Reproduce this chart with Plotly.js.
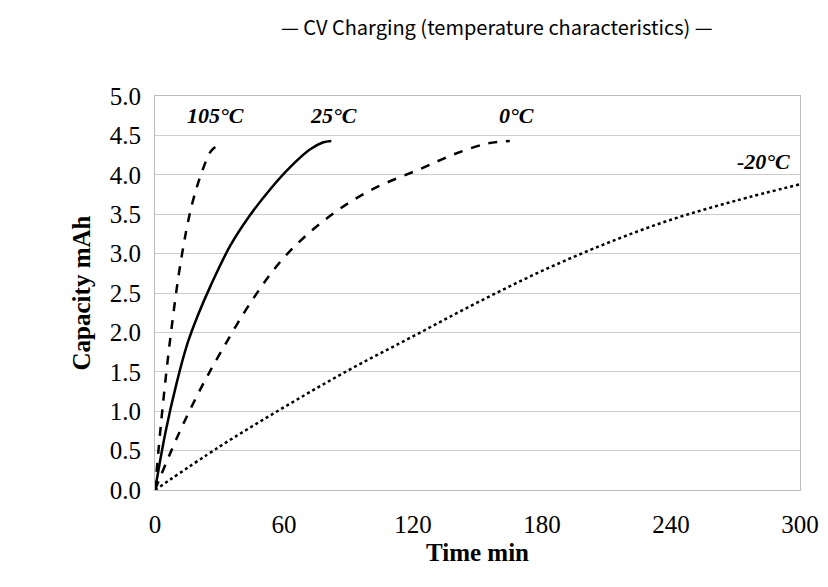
<!DOCTYPE html>
<html><head><meta charset="utf-8">
<script src="https://cdn.plot.ly/plotly-3.0.1.min.js"></script>
<style>body{margin:0;background:#fff}</style>
</head><body>
<div id="graph" style="width:828px;height:587px"></div>
<script>
// values
const t105 = [0, 3, 7, 12, 17, 22, 26, 29]
const c105 = [0, 0.9, 1.9, 2.9, 3.6, 4.05, 4.3, 4.37]
const t25 = [0, 5, 10, 15, 20, 26, 35, 44, 54, 63, 72, 78, 82]
const c25 = [0, 0.75, 1.35, 1.85, 2.22, 2.6, 3.1, 3.48, 3.83, 4.1, 4.32, 4.41, 4.43]
const t0 = [0, 10, 20, 30, 45, 60, 80, 100, 123, 140, 155, 165]
const c0 = [0, 0.65, 1.22, 1.72, 2.4, 2.95, 3.45, 3.8, 4.07, 4.27, 4.4, 4.43]
const tm20 = [0, 30, 60, 90, 120, 150, 180, 210, 240, 270, 300]
const cm20 = [0, 0.55, 1.05, 1.52, 1.95, 2.38, 2.78, 3.13, 3.43, 3.67, 3.88]
const labels = ["105°C", "25°C", "0°C", "-20°C"]
const labelX = [28, 83, 168, 283]
const labelY = [4.75, 4.75, 4.75, 4.17]

const serif = "Liberation Serif"
const mk = (x, y, dash) => ({x, y, mode: "lines", type: "scatter",
    line: {color: "#000", width: 2.5, dash, shape: "spline", smoothing: 1}})

const traces = [mk(t105, c105, "dash"), mk(t25, c25, "solid"), mk(t0, c0, "dash"), mk(tm20, cm20, "dot")]

const layout = {
    width: 828, height: 587, showlegend: false,
    paper_bgcolor: "#fff", plot_bgcolor: "#fff",
    margin: {l: 155, r: 28, t: 96, b: 97},
    title: {text: "— CV Charging (temperature characteristics) —", x: 0.6, y: 0.965,
        font: {family: "Noto Sans CJK JP", size: 20, color: "#000"}},
    xaxis: {range: [0, 300], tickvals: [0, 60, 120, 180, 240, 300], showgrid: false, zeroline: false,
        showline: true, mirror: true, linecolor: "#bbb", ticks: "", ticklabelstandoff: 12,
        tickfont: {family: serif, size: 25, color: "#000"},
        title: {text: "<b>Time min</b>", font: {family: serif, size: 25, color: "#000"}, standoff: 6}},
    yaxis: {range: [0, 5], dtick: 0.5, tickformat: ".1f", showgrid: true, gridcolor: "#ccc", zeroline: false,
        showline: true, mirror: true, linecolor: "#bbb", ticks: "", ticklabelstandoff: 8,
        tickfont: {family: serif, size: 25, color: "#000"},
        title: {text: "<b>Capacity mAh</b>", font: {family: serif, size: 25, color: "#000"}, standoff: 12}},
    annotations: labels.map((s, i) => ({x: labelX[i], y: labelY[i], text: "<b><i>" + s + "</i></b>",
        showarrow: false, font: {family: serif, size: 22, color: "#000"}}))
}

Plotly.newPlot("graph", traces, layout, {displayModeBar: false})
</script>
</body></html>
